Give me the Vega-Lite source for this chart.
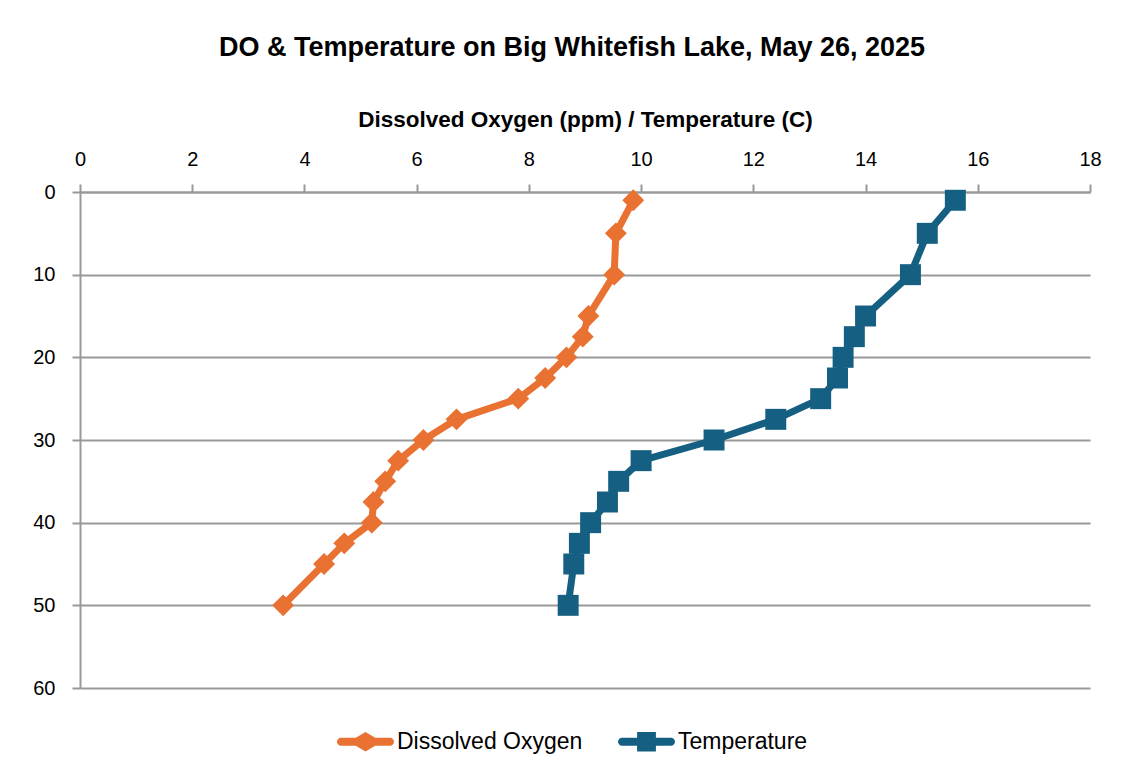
{
  "$schema": "https://vega.github.io/schema/vega-lite/v6.json",
  "width": 1010,
  "height": 496,
  "autosize": {"type": "none"},
  "padding": {"left": 80, "top": 192, "right": 38, "bottom": 92},
  "background": "white",
  "title": {
    "text": "DO & Temperature on Big Whitefish Lake, May 26, 2025",
    "font": "Liberation Sans",
    "fontSize": 27,
    "fontWeight": "bold",
    "color": "#000000",
    "anchor": "middle",
    "frame": "group",
    "offset": 46,
    "dx": -13
  },
  "config": {
    "view": {"stroke": null},
    "axis": {
      "labelFont": "Liberation Sans",
      "labelFontSize": 20,
      "labelColor": "#000000",
      "titleFont": "Liberation Sans",
      "titleFontSize": 22.5,
      "titleFontWeight": "bold",
      "titleColor": "#000000",
      "domainColor": "#999999",
      "domainWidth": 2,
      "tickColor": "#999999",
      "tickWidth": 2,
      "tickSize": 8,
      "gridColor": "#999999",
      "gridWidth": 2
    },
    "legend": {
      "labelFont": "Liberation Sans",
      "labelFontSize": 23,
      "labelColor": "#000000",
      "labelLimit": 0
    }
  },
  "data": {
    "values": [
      {"series": "Dissolved Oxygen", "depth": 1, "value": 9.86},
      {"series": "Dissolved Oxygen", "depth": 5, "value": 9.55},
      {"series": "Dissolved Oxygen", "depth": 10, "value": 9.52},
      {"series": "Dissolved Oxygen", "depth": 15, "value": 9.06},
      {"series": "Dissolved Oxygen", "depth": 17.5, "value": 8.96},
      {"series": "Dissolved Oxygen", "depth": 20, "value": 8.67},
      {"series": "Dissolved Oxygen", "depth": 22.5, "value": 8.29},
      {"series": "Dissolved Oxygen", "depth": 25, "value": 7.81},
      {"series": "Dissolved Oxygen", "depth": 27.5, "value": 6.71},
      {"series": "Dissolved Oxygen", "depth": 30, "value": 6.12},
      {"series": "Dissolved Oxygen", "depth": 32.5, "value": 5.67},
      {"series": "Dissolved Oxygen", "depth": 35, "value": 5.44},
      {"series": "Dissolved Oxygen", "depth": 37.5, "value": 5.23},
      {"series": "Dissolved Oxygen", "depth": 40, "value": 5.2},
      {"series": "Dissolved Oxygen", "depth": 42.5, "value": 4.71},
      {"series": "Dissolved Oxygen", "depth": 45, "value": 4.35},
      {"series": "Dissolved Oxygen", "depth": 50, "value": 3.62},
      {"series": "Temperature", "depth": 1, "value": 15.6},
      {"series": "Temperature", "depth": 5, "value": 15.1},
      {"series": "Temperature", "depth": 10, "value": 14.8},
      {"series": "Temperature", "depth": 15, "value": 14.0},
      {"series": "Temperature", "depth": 17.5, "value": 13.8},
      {"series": "Temperature", "depth": 20, "value": 13.6},
      {"series": "Temperature", "depth": 22.5, "value": 13.5},
      {"series": "Temperature", "depth": 25, "value": 13.2},
      {"series": "Temperature", "depth": 27.5, "value": 12.4},
      {"series": "Temperature", "depth": 30, "value": 11.3},
      {"series": "Temperature", "depth": 32.5, "value": 10.0},
      {"series": "Temperature", "depth": 35, "value": 9.6},
      {"series": "Temperature", "depth": 37.5, "value": 9.4},
      {"series": "Temperature", "depth": 40, "value": 9.1},
      {"series": "Temperature", "depth": 42.5, "value": 8.9},
      {"series": "Temperature", "depth": 45, "value": 8.8},
      {"series": "Temperature", "depth": 50, "value": 8.7}
    ]
  },
  "encoding": {
    "x": {
      "field": "value",
      "type": "quantitative",
      "scale": {"domain": [0, 18], "nice": false, "zero": false},
      "axis": {
        "orient": "top",
        "title": "Dissolved Oxygen (ppm) / Temperature (C)",
        "values": [0, 2, 4, 6, 8, 10, 12, 14, 16, 18],
        "grid": false,
        "labelFlush": false,
        "labelPadding": 15,
        "titlePadding": 18
      }
    },
    "y": {
      "field": "depth",
      "type": "quantitative",
      "scale": {"domain": [0, 60], "reverse": true, "nice": false},
      "axis": {
        "title": null,
        "values": [0, 10, 20, 30, 40, 50, 60],
        "grid": true,
        "labelPadding": 17
      }
    },
    "color": {
      "field": "series",
      "type": "nominal",
      "scale": {"domain": ["Dissolved Oxygen", "Temperature"], "range": ["#E97132", "#156082"]},
      "legend": {
        "orient": "none",
        "direction": "horizontal",
        "legendX": 257,
        "legendY": 521,
        "title": null,
        "columnPadding": 35,
        "symbolSize": 3249,
        "symbolStrokeWidth": 0,
        "labelOffset": 3,
        "encode": {
          "symbols": {
            "update": {
              "shape": {"signal": "datum.value === 'Dissolved Oxygen' ? 'M-0.86,-0.14L-0.34,-0.14L0,-0.34L0.34,-0.14L0.86,-0.14A0.14,0.14,0,0,1,0.86,0.14L0.34,0.14L0,0.34L-0.34,0.14L-0.86,0.14A0.14,0.14,0,0,1,-0.86,-0.14Z' : 'M-0.86,-0.14L-0.33,-0.14L-0.33,-0.34L0.33,-0.34L0.33,-0.14L0.86,-0.14A0.14,0.14,0,0,1,0.86,0.14L0.33,0.14L0.33,0.34L-0.33,0.34L-0.33,0.14L-0.86,0.14A0.14,0.14,0,0,1,-0.86,-0.14Z'"},
              "fill": {"signal": "datum.value === 'Dissolved Oxygen' ? '#E97132' : '#156082'"},
              "fillOpacity": {"value": 1},
              "strokeWidth": {"value": 0}
            }
          }
        }
      }
    }
  },
  "layer": [
    {
      "mark": {"type": "line", "strokeWidth": 7, "strokeJoin": "round", "strokeCap": "round"},
      "encoding": {"order": {"field": "depth", "type": "quantitative"}}
    },
    {
      "transform": [{"filter": "datum.series === 'Dissolved Oxygen'"}],
      "mark": {"type": "point", "filled": true, "opacity": 1, "shape": "diamond", "size": 480}
    },
    {
      "transform": [{"filter": "datum.series === 'Temperature'"}],
      "mark": {"type": "point", "filled": true, "opacity": 1, "shape": "square", "size": 440}
    }
  ]
}
